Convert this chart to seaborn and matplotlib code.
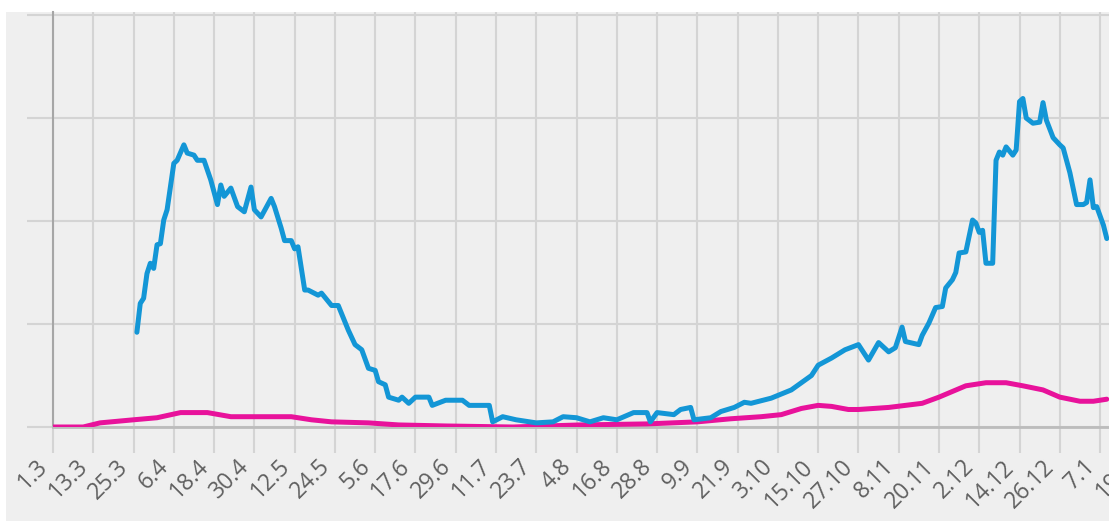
import pandas as pd
import matplotlib
matplotlib.use("Agg")
import matplotlib.pyplot as plt
from matplotlib.patches import Rectangle
import seaborn as sns

# blue series (irregular vertices)
blue_dates = [
    "2020-03-26", "2020-03-27", "2020-03-28", "2020-03-29", "2020-03-30", "2020-03-31",
    "2020-04-01", "2020-04-02", "2020-04-03", "2020-04-04", "2020-04-06", "2020-04-07",
    "2020-04-09", "2020-04-10", "2020-04-12", "2020-04-13", "2020-04-15", "2020-04-17",
    "2020-04-19", "2020-04-20", "2020-04-21", "2020-04-23", "2020-04-25", "2020-04-27",
    "2020-04-29", "2020-04-30", "2020-05-02", "2020-05-05", "2020-05-06", "2020-05-08",
    "2020-05-09", "2020-05-11", "2020-05-12", "2020-05-13", "2020-05-15", "2020-05-16",
    "2020-05-19", "2020-05-20", "2020-05-23", "2020-05-25", "2020-05-28", "2020-05-30",
    "2020-06-01", "2020-06-03", "2020-06-05", "2020-06-06", "2020-06-08", "2020-06-09",
    "2020-06-12", "2020-06-13", "2020-06-15", "2020-06-17", "2020-06-21", "2020-06-22",
    "2020-06-26", "2020-07-01", "2020-07-03", "2020-07-09", "2020-07-10", "2020-07-13",
    "2020-07-17", "2020-07-23", "2020-07-28", "2020-07-31", "2020-08-04", "2020-08-08",
    "2020-08-12", "2020-08-16", "2020-08-21", "2020-08-25", "2020-08-26", "2020-08-28",
    "2020-09-02", "2020-09-04", "2020-09-07", "2020-09-08", "2020-09-13", "2020-09-16",
    "2020-09-20", "2020-09-23", "2020-09-25", "2020-10-01", "2020-10-07", "2020-10-10",
    "2020-10-13", "2020-10-15", "2020-10-19", "2020-10-23", "2020-10-27", "2020-10-30",
    "2020-11-02", "2020-11-05", "2020-11-07", "2020-11-09", "2020-11-10", "2020-11-14",
    "2020-11-15", "2020-11-17", "2020-11-19", "2020-11-21", "2020-11-22", "2020-11-24",
    "2020-11-25", "2020-11-26", "2020-11-28", "2020-11-30", "2020-12-01", "2020-12-02",
    "2020-12-03", "2020-12-04", "2020-12-06", "2020-12-07", "2020-12-08", "2020-12-09",
    "2020-12-10", "2020-12-12", "2020-12-13", "2020-12-14", "2020-12-15", "2020-12-16",
    "2020-12-18", "2020-12-20", "2020-12-21", "2020-12-22", "2020-12-24", "2020-12-26",
    "2020-12-27", "2020-12-29", "2020-12-31", "2021-01-02", "2021-01-03", "2021-01-04",
    "2021-01-05", "2021-01-06", "2021-01-08", "2021-01-09",
]
blue_vals = [
    9.2, 12.0, 12.5, 14.9, 15.9, 15.4,
    17.7, 17.8, 20.1, 21.1, 25.6, 25.9,
    27.4, 26.6, 26.4, 25.9, 25.9, 24.0,
    21.6, 23.5, 22.4, 23.2, 21.4, 20.9,
    23.3, 21.1, 20.4, 22.2, 21.4, 19.3,
    18.1, 18.1, 17.3, 17.5, 13.3, 13.3,
    12.8, 13.0, 11.8, 11.8, 9.4, 8.0,
    7.5, 5.7, 5.5, 4.4, 4.1, 2.9,
    2.6, 2.9, 2.3, 2.9, 2.9, 2.1,
    2.6, 2.6, 2.1, 2.1, 0.5, 1.0,
    0.7, 0.4, 0.5, 1.0, 0.9, 0.5,
    0.9, 0.7, 1.4, 1.4, 0.5, 1.4,
    1.2, 1.7, 1.9, 0.7, 0.9, 1.5,
    1.9, 2.4, 2.3, 2.8, 3.6, 4.3,
    5.0, 6.0, 6.7, 7.5, 8.0, 6.5,
    8.2, 7.3, 7.7, 9.7, 8.3, 8.0,
    8.9, 10.1, 11.6, 11.7, 13.5, 14.3,
    15.0, 16.9, 17.0, 20.1, 19.8, 18.9,
    19.1, 15.9, 15.9, 25.9, 26.7, 26.4,
    27.2, 26.4, 26.9, 31.6, 31.9, 30.0,
    29.5, 29.6, 31.5, 29.8, 28.1, 27.4,
    27.1, 24.7, 21.6, 21.6, 21.8, 24.0,
    21.3, 21.4, 19.6, 18.3,
]

# pink series
pink_dates = [
    "2020-03-01", "2020-03-10", "2020-03-15", "2020-03-25", "2020-04-01", "2020-04-08",
    "2020-04-16", "2020-04-23", "2020-05-04", "2020-05-11", "2020-05-17", "2020-05-23",
    "2020-06-03", "2020-06-12", "2020-06-26", "2020-07-16", "2020-08-05", "2020-08-25",
    "2020-09-09", "2020-09-19", "2020-09-28", "2020-10-04", "2020-10-10", "2020-10-15",
    "2020-10-19", "2020-10-24", "2020-10-27", "2020-11-05", "2020-11-15", "2020-11-20",
    "2020-11-28", "2020-12-04", "2020-12-10", "2020-12-15", "2020-12-21", "2020-12-26",
    "2021-01-01", "2021-01-05", "2021-01-09",
]
pink_vals = [
    0.0, 0.0, 0.4, 0.7, 0.9, 1.4,
    1.4, 1.0, 1.0, 1.0, 0.7, 0.5,
    0.4, 0.2, 0.1, 0.0, 0.2, 0.3,
    0.5, 0.8, 1.0, 1.2, 1.8, 2.1,
    2.0, 1.7, 1.7, 1.9, 2.3, 2.9,
    4.0, 4.3, 4.3, 4.0, 3.6, 2.9,
    2.5, 2.5, 2.7,
]

tick_dates = pd.date_range("2020-03-01", periods=29, freq="12D")
tick_labels = [f"{d.day}.{d.month}" for d in tick_dates]

W, H = 1109, 523
fig = plt.figure(figsize=(W / 100, H / 100), dpi=100)
fig.patch.set_facecolor("white")
fig.patches.append(Rectangle((6 / W, 2 / H), 1, 509 / H, transform=fig.transFigure,
                             facecolor="#efefef", edgecolor="none", zorder=-5))

px_per_day = 3.356
xmax_days = 330
ax = fig.add_axes([53 / W, 96 / H, xmax_days * px_per_day / W, 415 / H])
ax.set_facecolor("#efefef")

blue = pd.DataFrame({"date": pd.to_datetime(blue_dates), "v": blue_vals})
pink = pd.DataFrame({"date": pd.to_datetime(pink_dates), "v": pink_vals})

sns.lineplot(data=pink, x="date", y="v", ax=ax, color="#e8129b", lw=3.6,
             solid_joinstyle="round", solid_capstyle="round", zorder=3)
sns.lineplot(data=blue, x="date", y="v", ax=ax, color="#1396d6", lw=3.6,
             solid_joinstyle="round", solid_capstyle="round", zorder=4)

ax.set_yticks([0, 10, 20, 30, 40])
ax.set_yticklabels([])
ax.set_xticks(tick_dates)
ax.set_xticklabels(tick_labels, rotation=45, ha="right", fontsize=16.5,
                   color="#606060", family=["Open Sans", "DejaVu Sans"])
ax.tick_params(axis="both", length=19, width=1.5, color="#d4d4d4", pad=1)
ax.grid(True, color="#d4d4d4", lw=1.5)
ax.set_axisbelow(True)
ax.set_xlabel("")
ax.set_ylabel("")

# limits after the ticks, otherwise set_xticks widens the view
x0 = pd.Timestamp("2020-03-01")
ax.set_xlim(x0, x0 + pd.Timedelta(days=xmax_days))
ax.set_ylim(0, 40.3)

for s in ["top", "right"]:
    ax.spines[s].set_visible(False)
ax.spines["left"].set_color("#a6a6a6")
ax.spines["left"].set_linewidth(1.5)
ax.spines["bottom"].set_color("#bcbcbc")
ax.spines["bottom"].set_linewidth(2)

fig.savefig("out.png", dpi=100)
